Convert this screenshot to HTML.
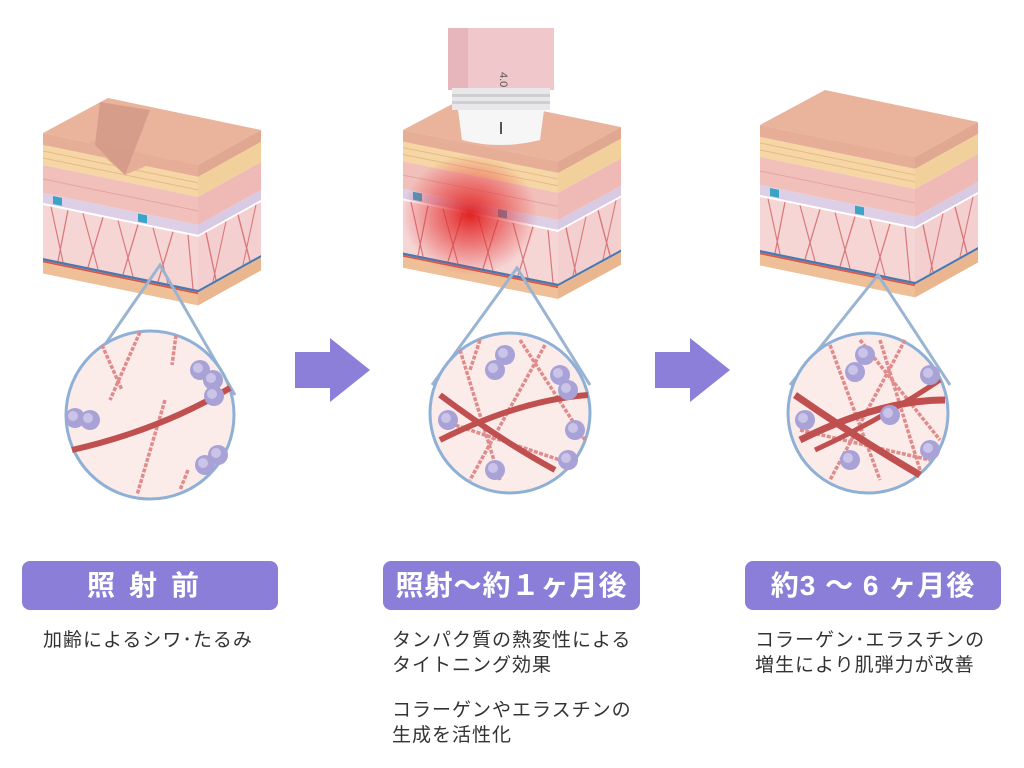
<!DOCTYPE html>
<html><head><meta charset="utf-8"><style>
body{margin:0;background:#fff;width:1024px;height:768px;overflow:hidden;font-family:"Liberation Sans","Noto Sans CJK JP",sans-serif;position:relative}
.lab{position:absolute;top:561px;height:49px;background:#8a7ed8;border-radius:8px;color:#fff;font-weight:bold;font-size:28px;line-height:49px;text-align:center;letter-spacing:1px}
.d{position:absolute;font-size:19px;color:#333;line-height:25px;letter-spacing:1px;white-space:nowrap}
</style></head><body>
<svg width="1024" height="768" style="position:absolute;left:0;top:0">
<defs>
<g id="front">
 <rect x="0" y="0" width="155" height="12" fill="#e6ae97"/>
 <rect x="0" y="12" width="155" height="20" fill="#f5d6a4"/>
 <line x1="0" y1="18" x2="155" y2="18" stroke="#e8b88a" stroke-width="1"/>
 <line x1="0" y1="25" x2="155" y2="25" stroke="#e8b88a" stroke-width="1"/>
 <rect x="0" y="32" width="155" height="28" fill="#f2c0bb"/>
 <line x1="0" y1="46" x2="155" y2="46" stroke="#e6a3a3" stroke-width="1"/>
 <rect x="0" y="60" width="155" height="10" fill="#ddcfe6"/>
 <rect x="0" y="70" width="155" height="2" fill="#fff"/>
 <rect x="0" y="72" width="155" height="53" fill="#f6d5d5"/>
 <path d="M8 72 L20 125 M25 72 L15 125 M40 72 L55 125 M60 72 L45 125 M75 72 L90 125 M95 72 L80 125 M110 72 L125 125 M130 72 L115 125 M145 72 L150 125" stroke="#d8777a" stroke-width="1.2" fill="none"/>
 <rect x="0" y="125" width="155" height="2.5" fill="#4a78b0"/>
 <rect x="0" y="127.5" width="155" height="2" fill="#d55a4a"/>
 <rect x="0" y="129.5" width="155" height="11" fill="#efbf98"/>
 <rect x="10" y="61" width="9" height="8" fill="#3aa3c8"/>
 <rect x="95" y="61" width="9" height="8" fill="#3aa3c8"/>
</g>
<g id="side">
 <rect x="0" y="0" width="63" height="12" fill="#e0a890"/>
 <rect x="0" y="12" width="63" height="20" fill="#f2d09c"/>
 <rect x="0" y="32" width="63" height="28" fill="#efbab5"/>
 <rect x="0" y="60" width="63" height="10" fill="#d8cae2"/>
 <rect x="0" y="70" width="63" height="2" fill="#fff"/>
 <rect x="0" y="72" width="63" height="53" fill="#f3cfcf"/>
 <path d="M8 72 L18 125 M28 72 L15 125 M40 72 L52 125 M58 72 L45 125" stroke="#d8777a" stroke-width="1.2" fill="none"/>
 <rect x="0" y="125" width="63" height="2.5" fill="#4a78b0"/>
 <rect x="0" y="127.5" width="63" height="13" fill="#e9b690"/>
</g>
<g id="block">
 <polygon points="0,0 65,-35 218,-3 155,32" fill="#eab39c"/>
 <g transform="matrix(1,0.206,0,1,0,0)"><use href="#front"/></g>
 <g transform="matrix(1,-0.556,0,1,155,32)"><use href="#side"/></g>
</g>
<radialGradient id="glow" cx="0.5" cy="0.5" r="0.5">
 <stop offset="0" stop-color="#e01818" stop-opacity="0.95"/>
 <stop offset="0.5" stop-color="#e53030" stop-opacity="0.55"/>
 <stop offset="1" stop-color="#e53030" stop-opacity="0"/>
</radialGradient>
<g id="sph"><circle r="10" fill="#a9a2d6"/><circle r="5" cx="-2" cy="-2" fill="#c9c4e8"/></g>
</defs>

<!-- block1 -->
<g transform="translate(43,133)"><use href="#block"/></g>
<path d="M90 144 L125 175 L160 160 L160 158 L90 140 Z" fill="#e6ae97"/>
<path d="M100 102 L150 110 L125 175 L95 145 Z" fill="#cf9784" opacity="0.75"/>
<!-- block2 -->
<g transform="translate(403,130) scale(1,0.98)"><use href="#block"/></g>
<ellipse cx="470" cy="215" rx="68" ry="60" fill="url(#glow)"/>
<!-- device -->
<rect x="448" y="28" width="106" height="62" fill="#f0c8cc"/>
<rect x="448" y="28" width="20" height="62" fill="#e7b6bc"/>
<text x="500" y="72" font-size="11" fill="#555" transform="rotate(90 500 72)" font-family="Liberation Sans">4.0</text>
<rect x="452" y="88" width="98" height="22" fill="#e8e8ea"/>
<rect x="452" y="94" width="98" height="3" fill="#cfcfd3"/>
<rect x="452" y="101" width="98" height="3" fill="#cfcfd3"/>
<path d="M458 110 L544 110 L540 140 Q500 150 462 140 Z" fill="#f6f6f7"/>
<rect x="500" y="122" width="2" height="12" fill="#555"/>
<!-- block3 -->
<g transform="translate(760,125)"><use href="#block"/></g>

<!-- triangles & circles -->
<g stroke="#9ab4d2" stroke-width="3" fill="none">
<polyline points="70,395 160,265 235,395"/>
<polyline points="432,385 517,268 590,385"/>
<polyline points="790,385 878,275 950,385"/>
</g>
<g>
 <circle cx="150" cy="415" r="84" fill="#fbecea" stroke="#8fb0d6" stroke-width="3"/>
 <g stroke="#e08c8c" stroke-width="3.5" stroke-dasharray="4 1.5" fill="none">
  <path d="M102 345 L122 390 M140 332 L110 400 M176 335 L172 365 M165 400 L137 495 M188 470 L180 490"/>
 </g>
 <path d="M72 450 Q160 430 230 388" stroke="#c0504f" stroke-width="6" fill="none"/>
 <use href="#sph" x="200" y="370"/><use href="#sph" x="213" y="380"/><use href="#sph" x="214" y="396"/>
 <use href="#sph" x="75" y="418"/><use href="#sph" x="90" y="420"/>
 <use href="#sph" x="218" y="455"/><use href="#sph" x="205" y="465"/>

 <circle cx="510" cy="413" r="80" fill="#fbecea" stroke="#8fb0d6" stroke-width="3"/>
 <g stroke="#e08c8c" stroke-width="3.5" stroke-dasharray="4 1.5" fill="none">
  <path d="M460 350 L500 480 M545 345 L470 480 M520 340 L585 440 M440 420 L560 460 M480 340 L470 370"/>
 </g>
 <path d="M440 395 Q500 440 555 470" stroke="#c0504f" stroke-width="6" fill="none"/>
 <path d="M440 440 Q520 400 588 395" stroke="#c0504f" stroke-width="6" fill="none"/>
 <use href="#sph" x="505" y="355"/><use href="#sph" x="495" y="370"/><use href="#sph" x="560" y="375"/><use href="#sph" x="568" y="390"/>
 <use href="#sph" x="448" y="420"/><use href="#sph" x="575" y="430"/><use href="#sph" x="568" y="460"/><use href="#sph" x="495" y="470"/>

 <circle cx="868" cy="413" r="80" fill="#fbecea" stroke="#8fb0d6" stroke-width="3"/>
 <g stroke="#e08c8c" stroke-width="3.5" stroke-dasharray="4 1.5" fill="none">
  <path d="M830 345 L880 480 M905 340 L830 480 M860 340 L940 440 M800 430 L930 460 M880 340 L920 470"/>
 </g>
 <path d="M795 395 Q860 440 920 475" stroke="#c0504f" stroke-width="7" fill="none"/>
 <path d="M800 440 Q880 400 945 400" stroke="#c0504f" stroke-width="7" fill="none"/>
 <path d="M815 450 Q880 420 940 380" stroke="#c0504f" stroke-width="5" fill="none"/>
 <use href="#sph" x="865" y="355"/><use href="#sph" x="855" y="372"/><use href="#sph" x="930" y="375"/>
 <use href="#sph" x="805" y="420"/><use href="#sph" x="890" y="415"/><use href="#sph" x="930" y="450"/><use href="#sph" x="850" y="460"/>
</g>

<!-- arrows -->
<polygon points="295,352 330,352 330,338 370,370 330,402 330,388 295,388" fill="#8b7fd9"/>
<polygon points="655,352 690,352 690,338 730,370 690,402 690,388 655,388" fill="#8b7fd9"/>
</svg>

<div class="lab" style="left:22px;width:256px;letter-spacing:14px">照射前</div>
<div class="lab" style="left:383px;width:257px">照射～約１ヶ月後</div>
<div class="lab" style="left:745px;width:256px">約3 ～ 6 ヶ月後</div>
<div class="d" style="left:43px;top:628px">加齢によるシワ･たるみ</div>
<div class="d" style="left:392px;top:628px">タンパク質の熱変性による<br>タイトニング効果</div>
<div class="d" style="left:392px;top:698px">コラーゲンやエラスチンの<br>生成を活性化</div>
<div class="d" style="left:755px;top:628px">コラーゲン･エラスチンの<br>増生により肌弾力が改善</div>
</body></html>
